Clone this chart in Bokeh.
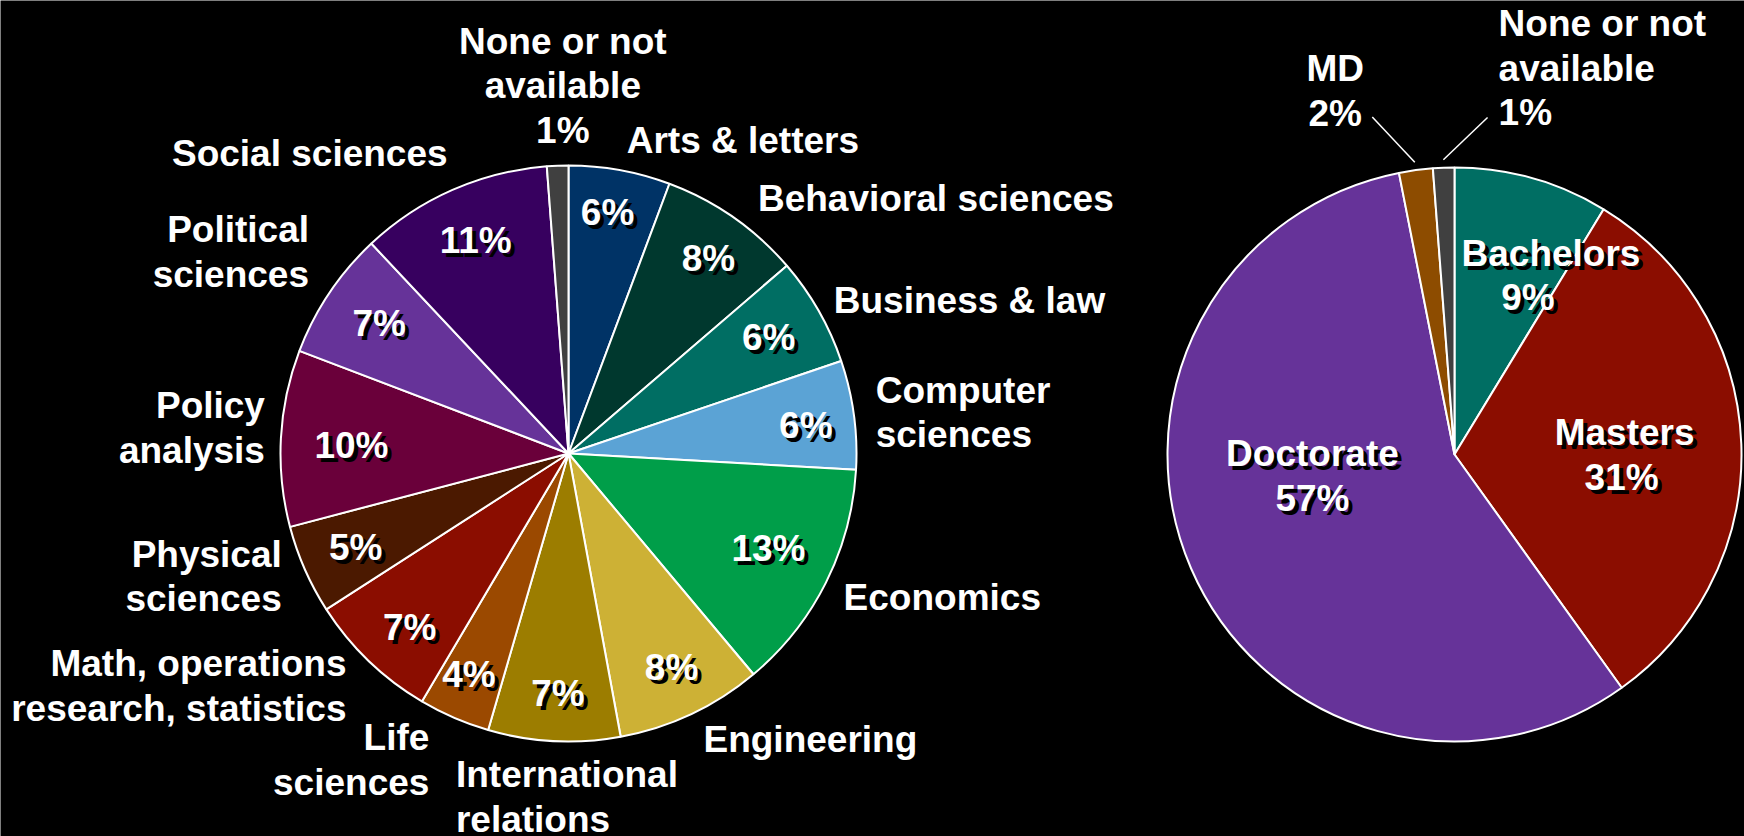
import math
from bokeh.plotting import figure
from bokeh.models import Range1d, ColumnDataSource
from bokeh.core.properties import value
from bokeh.embed import file_html
from bokeh.resources import INLINE

# ---------------- data ----------------
# Left pie: field of study (clockwise from 12 o'clock)
field_names = ["Arts & letters", "Behavioral sciences", "Business & law", "Computer sciences",
               "Economics", "Engineering", "International relations", "Life sciences",
               "Math, operations research, statistics", "Physical sciences", "Policy analysis",
               "Political sciences", "Social sciences", "None or not available"]
field_shares = [5.7, 8.0, 6.1, 6.1, 13.0, 8.2, 7.4, 4.0, 7.4, 5.0, 9.9, 7.2, 10.8, 1.2]
field_pct_text = ["6%", "8%", "6%", "6%", "13%", "8%", "7%", "4%", "7%", "5%", "10%", "7%", "11%", "1%"]
field_colors = ["#003366", "#00382E", "#006E63", "#5BA3D5", "#009E49", "#CDB135", "#9C7D00",
                "#9B4900", "#8B0D00", "#4B1900", "#6A003A", "#663399", "#37005F", "#404040"]

# Right pie: highest degree (clockwise from 12 o'clock)
degree_names = ["Bachelors", "Masters", "Doctorate", "MD", "None or not available"]
degree_shares = [8.7, 31.4, 56.8, 1.9, 1.2]
degree_pct_text = ["9%", "31%", "57%", "2%", "1%"]
degree_colors = ["#006E63", "#8B0D00", "#663399", "#8D4C00", "#404040"]

# ---------------- layout (screen pixels, y down) ----------------
PAGE_W = 1744
PAGE_H = 836
FONT = "Liberation Sans"
FSIZE = "37px"
LINE = 44.5

field_label_lines = [["Arts & letters"], ["Behavioral sciences"], ["Business & law"],
                     ["Computer", "sciences"], ["Economics"], ["Engineering"],
                     ["International", "relations"], ["Life", "sciences"],
                     ["Math, operations", "research, statistics"], ["Physical", "sciences"],
                     ["Policy", "analysis"], ["Political", "sciences"], ["Social sciences"],
                     ["None or not", "available"]]
field_pct_outside = [False] * 13 + [True]
field_out_nudge = [(3, -8), (12, -1), (-4, 1), (0, 1), (-2, 5), (3, 6), (-97, 34), (-16, 22),
                   (-7, 9), (-3, -2), (6, -9), (-2, -29), (4, -16), (6, -58)]
field_align_override = {6: "left"}
field_in_nudge = [(-2, -14), (8, -6), (0, -2), (9, 3), (-6, -8), (5, 6), (1, 10), (-8, 10),
                  (1, 8), (-2, 1), (13, 4), (2, -2), (0, -2), (0, 0)]

degree_label_lines = [["Bachelors"], ["Masters"], ["Doctorate"], ["MD"], ["None or not", "available"]]
degree_inside = [True, True, True, False, False]
degree_in_nudge = [(38, -13), (-3, 7), (16, -47), (0, 0), (0, 0)]
degree_line_dx = [(12, -11), (1, -2), (0, 0), (0, 0), (0, 0)]
degree_out_nudge = [(0, 0), (0, 0), (0, 0), (-77.6, -57.3), (55.7, -77.3)]
degree_out_align = [None, None, None, "center", "left"]
degree_leader_end = [None, None, None, (37, 26), (-11, 49)]


def Y(ys):
    return PAGE_H - ys


p = figure(width=PAGE_W, height=PAGE_H, x_range=Range1d(0, PAGE_W), y_range=Range1d(0, PAGE_H),
           output_backend="svg", toolbar_location=None, min_border=0)
p.axis.visible = False
p.grid.visible = False
p.outline_line_color = None
p.background_fill_color = "black"
p.border_fill_color = "black"


def draw_pie(shares, colors, cx, cy, R):
    total = float(sum(shares))
    cum = 0.0
    starts, ends, mids = [], [], []
    for s in shares:
        a0 = cum / total * 2 * math.pi
        cum += s
        a1 = cum / total * 2 * math.pi
        starts.append(math.pi / 2 - a1)
        ends.append(math.pi / 2 - a0)
        mids.append((a0 + a1) / 2)
    src = ColumnDataSource(dict(start=starts, end=ends, color=colors))
    p.wedge(x=cx, y=Y(cy), radius=R, start_angle="start", end_angle="end",
            fill_color="color", line_color="white", line_width=2, source=src)
    return mids


def add_text(items, align, shadow):
    # items: list of (x_screen, y_screen, text)
    if not items:
        return
    src = ColumnDataSource(dict(x=[i[0] for i in items], y=[Y(i[1]) for i in items],
                                text=[i[2] for i in items]))
    common = dict(text_font=value(FONT), text_font_style="bold", text_font_size=FSIZE,
                  text_align=align, text_baseline="middle")
    if shadow:
        p.text(x="x", y="y", text="text", source=src, text_color="black",
               x_offset=4, y_offset=4, **common)
    p.text(x="x", y="y", text="text", source=src, text_color="white", **common)


def block(x, y, lines, dxs=None):
    n = len(lines)
    out = []
    for i, t in enumerate(lines):
        dx = dxs[i] if dxs else 0
        out.append((x + dx, y + (i - (n - 1) / 2) * LINE, t))
    return out


# ---------------- left pie ----------------
LCX, LCY, LR = 568, 453, 288
mids = draw_pie(field_shares, field_colors, LCX, LCY, LR)
groups = {"left": [], "right": [], "center": []}
inside = []
for k, th in enumerate(mids):
    ux, uy = math.sin(th), -math.cos(th)
    lines = list(field_label_lines[k])
    if field_pct_outside[k]:
        lines.append(field_pct_text[k])
    else:
        fx = LCX + 0.8 * LR * ux + field_in_nudge[k][0]
        fy = LCY + 0.8 * LR * uy + field_in_nudge[k][1]
        inside.append((fx, fy, field_pct_text[k]))
    ax = LCX + (LR + 22) * ux + field_out_nudge[k][0]
    ay = LCY + (LR + 22) * uy + field_out_nudge[k][1]
    align = "left" if ux > 0.15 else ("right" if ux < -0.15 else "center")
    align = field_align_override.get(k, align)
    groups[align].extend(block(ax, ay, lines))
for a, items in groups.items():
    add_text(items, a, False)
add_text(inside, "center", True)

# ---------------- right pie ----------------
RCX, RCY, RR = 1454, 454, 287
mids = draw_pie(degree_shares, degree_colors, RCX, RCY, RR)
groups = {"left": [], "right": [], "center": []}
inside = []
lx0, ly0, lx1, ly1 = [], [], [], []
for k, th in enumerate(mids):
    ux, uy = math.sin(th), -math.cos(th)
    lines = list(degree_label_lines[k]) + [degree_pct_text[k]]
    if degree_inside[k]:
        bx = RCX + 0.6 * RR * ux + degree_in_nudge[k][0]
        by = RCY + 0.6 * RR * uy + degree_in_nudge[k][1]
        inside.extend(block(bx, by, lines, degree_line_dx[k]))
    else:
        ax = RCX + (RR + 22) * ux + degree_out_nudge[k][0]
        ay = RCY + (RR + 22) * uy + degree_out_nudge[k][1]
        groups[degree_out_align[k]].extend(block(ax, ay, lines))
        lx0.append(RCX + (RR + 8) * ux)
        ly0.append(Y(RCY + (RR + 8) * uy))
        lx1.append(ax + degree_leader_end[k][0])
        ly1.append(Y(ay + degree_leader_end[k][1]))
p.segment(x0=lx0, y0=ly0, x1=lx1, y1=ly1, line_color="white", line_width=1.5)
for a, items in groups.items():
    add_text(items, a, False)
add_text(inside, "center", True)

html = file_html(p, INLINE)
html = html.replace("<body>", '<body style="background-color:#000000;">', 1)
open("out.html", "w").write(html)
